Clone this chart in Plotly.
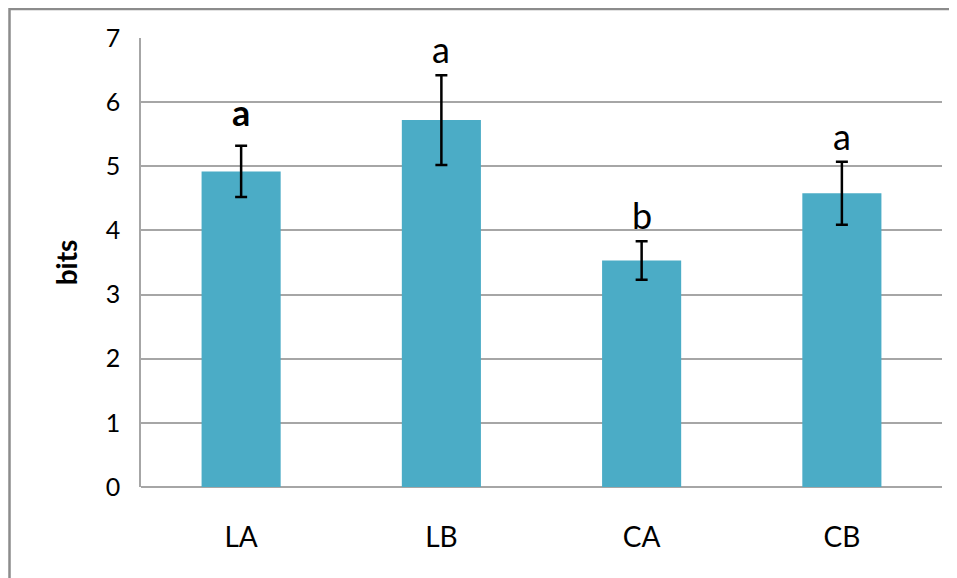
import plotly.graph_objects as go

categories = ["LA", "LB", "CA", "CB"]
values = [4.92, 5.72, 3.53, 4.58]
errors = [0.40, 0.70, 0.30, 0.49]
letters = ["a", "a", "b", "a"]
letter_bold = [True, False, False, False]
y_ticks = [0, 1, 2, 3, 4, 5, 6, 7]

FONT = "Lato, 'Open Sans', sans-serif"
BAR_COLOR = "#4BACC6"
GRID = "#A6A6A6"

fig = go.Figure()
fig.add_trace(go.Bar(
    x=categories, y=values,
    marker=dict(color=BAR_COLOR, line=dict(width=0)),
    error_y=dict(type="data", array=errors, visible=True,
                 color="black", thickness=2.5, width=6),
    width=0.395,
))

for cat, v, e, t, b in zip(categories, values, errors, letters, letter_bold):
    fig.add_annotation(
        x=cat, y=v + e, xref="x", yref="y",
        text=f"<b>{t}</b>" if b else t,
        showarrow=False, yanchor="bottom", yshift=10 if b else 2,
        font=dict(family=FONT, size=36, color="black"),
    )

# page body has an 8px margin; layout coordinates are relative to the figure
L, R, T, B = 133, 23, 30, 99
W, H = 957, 578
pw, ph = W - L - R, H - T - B
fig.add_shape(
    type="rect", xref="paper", yref="paper",
    x0=(1.5 - L) / pw, x1=(W + 5 - L) / pw,
    y0=-(H + 5 - (H - B)) / ph, y1=1 + (T - 1) / ph,
    line=dict(color="#8C8C8C", width=2.5), fillcolor="rgba(0,0,0,0)",
    layer="above",
)

fig.update_layout(
    width=W, height=H,
    margin=dict(l=L, r=R, t=T, b=B),
    paper_bgcolor="white", plot_bgcolor="white",
    showlegend=False,
    font=dict(family=FONT, color="black"),
    xaxis=dict(
        showgrid=False, showline=False, zeroline=False,
        ticks="", ticklabelstandoff=31,
        tickfont=dict(size=28, family=FONT),
    ),
    yaxis=dict(
        range=[0, 7], tickvals=y_ticks, ticktext=[str(t) for t in y_ticks],
        showgrid=True, gridcolor=GRID, gridwidth=1.5,
        showline=True, linecolor=GRID, linewidth=1.5,
        zeroline=True, zerolinecolor=GRID, zerolinewidth=1.5,
        ticks="", ticklabelstandoff=14,
        tickfont=dict(size=25, family=FONT),
        title=dict(text="<b>bits</b>", font=dict(size=28, family=FONT), standoff=20),
    ),
)

fig.write_html("out.html")
